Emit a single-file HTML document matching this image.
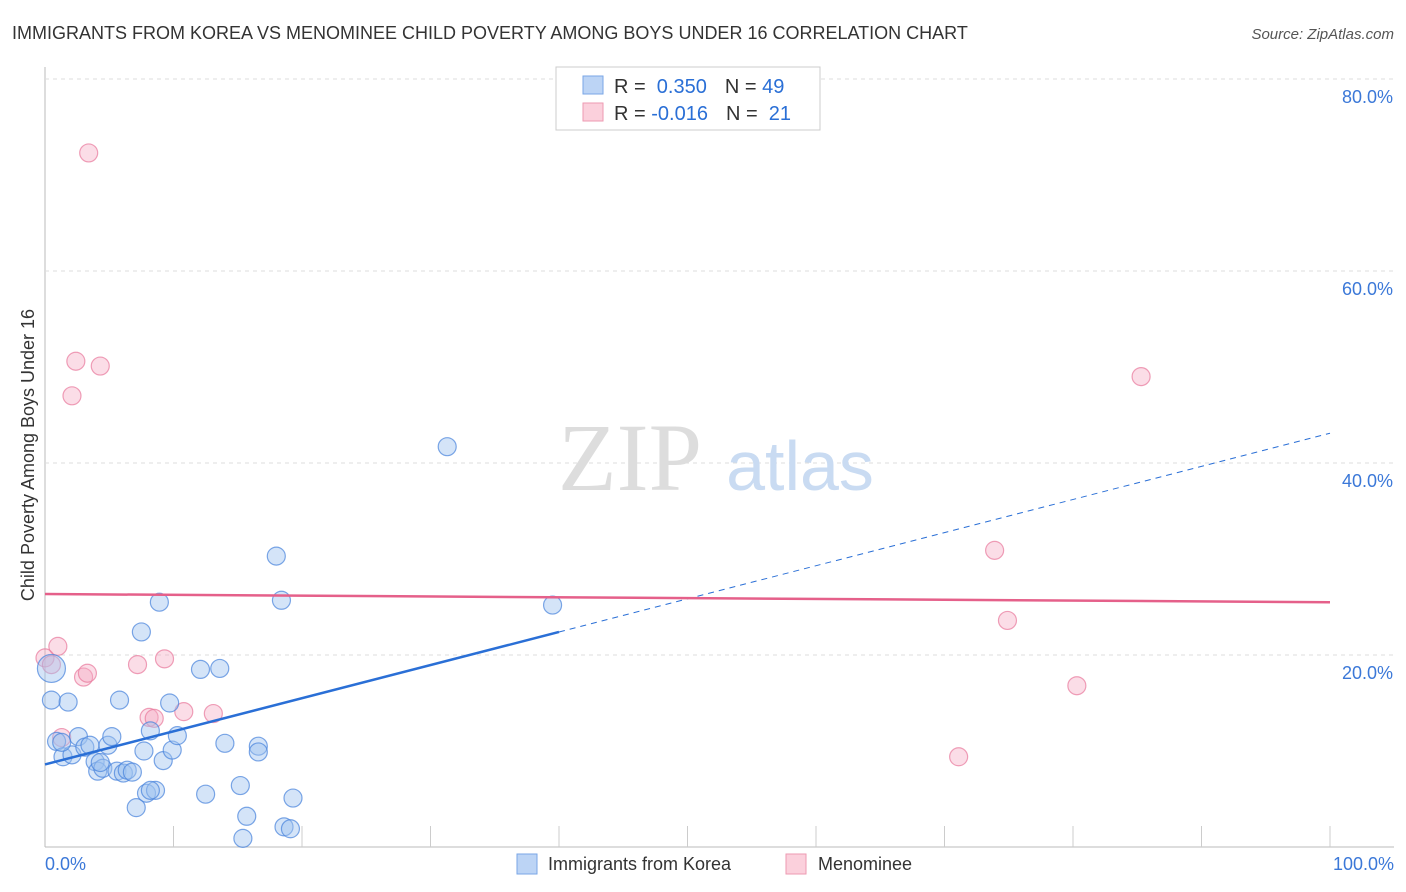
<!DOCTYPE html>
<html><head><meta charset="utf-8"><style>
body{margin:0;background:#fff;font-family:"Liberation Sans",sans-serif}
</style></head><body>
<svg width="1406" height="892" style="display:block">
<text x="12" y="39" font-size="18" fill="#333">IMMIGRANTS FROM KOREA VS MENOMINEE CHILD POVERTY AMONG BOYS UNDER 16 CORRELATION CHART</text>
<text x="1394" y="39" font-size="15" fill="#555" font-style="italic" text-anchor="end">Source: ZipAtlas.com</text>
<g id="grid"></g>
<text x="630" y="490" font-size="96" fill="#ddd" font-family="Liberation Serif,serif" text-anchor="middle">ZIP</text>
<text x="800" y="490" font-size="70" fill="#c9dbf2" text-anchor="middle">atlas</text>
<text transform="translate(34,455) rotate(-90)" font-size="18" fill="#333" text-anchor="middle">Child Poverty Among Boys Under 16</text>
<g id="marks"></g>
<g>
<rect x="556" y="67" width="264" height="63" fill="#fff" stroke="#ccc"/>
<rect x="583" y="76" width="20" height="18" fill="#bcd4f5" stroke="#7aa6e6"/>
<rect x="583" y="103" width="20" height="18" fill="#fbd0dc" stroke="#ee9ab2"/>
<text x="614" y="93" font-size="20" fill="#333">R = <tspan fill="#2a6fd6">&#160;0.350</tspan><tspan dx="18" fill="#333">N = </tspan><tspan fill="#2a6fd6">49</tspan></text>
<text x="614" y="120" font-size="20" fill="#333">R = <tspan fill="#2a6fd6">-0.016</tspan><tspan dx="18" fill="#333">N = </tspan><tspan fill="#2a6fd6">&#160;21</tspan></text>
</g>
<g>
<rect x="517" y="854" width="20" height="20" fill="#bcd4f5" stroke="#7aa6e6"/>
<text x="548" y="870" font-size="18" fill="#333">Immigrants from Korea</text>
<rect x="786" y="854" width="20" height="20" fill="#fbd0dc" stroke="#ee9ab2"/>
<text x="818" y="870" font-size="18" fill="#333">Menominee</text>
</g>
<text x="45" y="870" font-size="18" fill="#3b78d8">0.0%</text>
<text x="1394" y="870" font-size="18" fill="#3b78d8" text-anchor="end">100.0%</text>
</svg>
<script>
const yTicks=[20,40,60,80];
const yTickLabels=["20.0%","40.0%","60.0%","80.0%"];
const koreaX=[0.5,0.5,1.8,0.9,1.4,2.1,2.6,3.1,3.5,3.9,4.1,4.5,4.9,5.2,5.8,5.6,6.1,6.4,6.8,7.1,7.7,7.9,7.5,8.2,8.6,8.9,9.2,9.7,9.9,10.3,12.1,12.5,13.6,14.0,15.2,15.4,15.7,16.6,16.6,18.0,18.4,18.6,19.1,19.3,31.3,39.5,1.3,4.3,8.2];
const koreaY=[18.6,15.3,15.1,11.0,9.4,9.6,11.5,10.4,10.6,8.9,7.9,8.2,10.6,11.5,15.3,7.9,7.7,8.0,7.8,4.1,10.0,5.6,22.4,12.1,5.9,25.5,9.0,15.0,10.1,11.6,18.5,5.5,18.6,10.8,6.4,0.9,3.2,10.5,9.9,30.3,25.7,2.1,1.9,5.1,41.7,25.2,10.9,8.8,5.9];
const menX=[0,0.5,1.0,1.3,2.4,2.1,3.4,4.3,3.0,3.3,7.2,8.1,8.5,9.3,10.8,13.1,71.1,73.9,74.9,80.3,85.3];
const menY=[19.7,19.0,20.9,11.4,50.6,47.0,72.3,50.1,17.7,18.1,19.0,13.5,13.4,19.6,14.1,13.9,9.4,30.9,23.6,16.8,49.0];
const koreaTrend=[8.6,43.1]; // y at x=0 and x=100
const menTrend=[26.35,25.5];
const X=v=>45+v*12.85, Y=v=>847-v*9.6;
const NS="http://www.w3.org/2000/svg";
function mk(t,a,p){const e=document.createElementNS(NS,t);for(const k in a)e.setAttribute(k,a[k]);p.appendChild(e);return e;}
const g=document.getElementById('grid'), m=document.getElementById('marks');
mk('line',{x1:45,y1:67,x2:45,y2:847,stroke:'#bbb'},g);
mk('line',{x1:45,y1:847,x2:1394,y2:847,stroke:'#bbb'},g);
for(let i=1;i<=10;i++){const l=mk('line',{x1:45+i*128.5,y1:826,x2:45+i*128.5,y2:847,stroke:'#ccc'},g);

}
yTicks.forEach((t,i)=>{const l=mk('line',{x1:45,y1:Y(t),x2:1394,y2:Y(t),stroke:'#ddd','stroke-dasharray':'4,4'},g);


const tx=mk('text',{x:1393,y:Y(t)+24,'font-size':18,fill:'#3b78d8','text-anchor':'end'},g);tx.textContent=yTickLabels[i];

});
menX.forEach((x,i)=>{const c=mk('circle',{cx:X(x),cy:Y(menY[i]),r:9,fill:'rgba(246,170,195,0.4)',stroke:'rgba(232,120,155,0.7)','stroke-width':1.2},m);

});
koreaX.forEach((x,i)=>{const c=mk('circle',{cx:X(x),cy:Y(koreaY[i]),r:i==0?14:9,fill:'rgba(160,196,240,0.45)',stroke:'rgba(70,130,220,0.7)','stroke-width':1.2},m);

});
const kAt=x=>koreaTrend[0]+(koreaTrend[1]-koreaTrend[0])*x/100;
let l=mk('line',{x1:X(0),y1:Y(kAt(0)),x2:X(40),y2:Y(kAt(40)),stroke:'#2a6fd6','stroke-width':2.5},m);


l=mk('line',{x1:X(40),y1:Y(kAt(40)),x2:X(100),y2:Y(kAt(100)),stroke:'#2a6fd6','stroke-width':1,'stroke-dasharray':'6,5'},m);


l=mk('line',{x1:X(0),y1:Y(menTrend[0]),x2:X(100),y2:Y(menTrend[1]),stroke:'#e5608a','stroke-width':2.5},m);


</script>
</body></html>
